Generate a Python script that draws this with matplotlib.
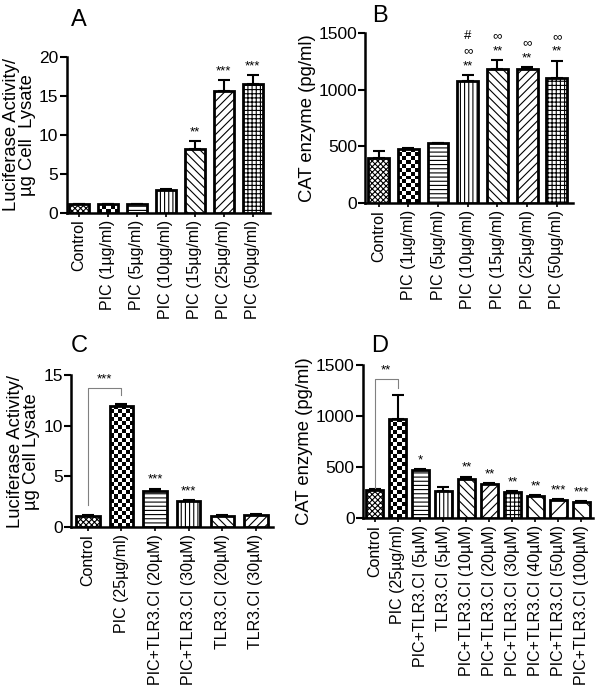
import numpy as np
import matplotlib
matplotlib.use('Agg')
import matplotlib.pyplot as plt

plt.rcParams['font.family'] = ['Liberation Sans', 'DejaVu Sans']
plt.rcParams['hatch.linewidth'] = 0.8

# Dane paneli A i B
labels_ab = ['Control', 'PIC (1µg/ml)', 'PIC (5µg/ml)', 'PIC (10µg/ml)',
             'PIC (15µg/ml)', 'PIC (25µg/ml)', 'PIC (50µg/ml)']
luc_a = [1.1, 1.1, 1.1, 2.9, 8.2, 15.6, 16.5]
luc_a_err = [0.05, 0.05, 0.05, 0.2, 1.0, 1.4, 1.1]
sig_a = ['', '', '', '', '**', '***', '***']

cat_b = [400, 480, 525, 1080, 1180, 1185, 1105]
cat_b_err = [55, 5, 5, 45, 80, 10, 150]
sig_b = ['', '', '', '#\n∞\n**', '∞\n**', '∞\n**', '∞\n**']

# Dane panelu C
labels_c = ['Control', 'PIC (25µg/ml)', 'PIC+TLR3.CI (20µM)', 'PIC+TLR3.CI (30µM)',
            'TLR3.CI (20µM)', 'TLR3.CI (30µM)']
luc_c = [1.1, 12.0, 3.6, 2.6, 1.1, 1.2]
luc_c_err = [0.05, 0.2, 0.2, 0.05, 0.1, 0.05]
sig_c = ['', '', '***', '***', '', '']

# Dane panelu D
labels_d = ['Control', 'PIC (25µg/ml)', 'PIC+TLR3.CI (5µM)', 'TLR3.CI (5µM)',
            'PIC+TLR3.CI (10µM)', 'PIC+TLR3.CI (20µM)', 'PIC+TLR3.CI (30µM)',
            'PIC+TLR3.CI (40µM)', 'PIC+TLR3.CI (50µM)', 'PIC+TLR3.CI (100µM)']
cat_d = [270, 970, 470, 260, 380, 330, 255, 215, 180, 160]
cat_d_err = [10, 230, 10, 40, 25, 10, 5, 10, 5, 5]
sig_d = ['', '', '*', '', '**', '**', '**', '**', '***', '***']

hatch_ab = ['xxxxxx', 'checker', '----', '||||', '\\\\\\\\', '////', '++++']
hatch_c = ['xxxxxx', 'checker', '----', '||||', '\\\\\\\\', '////']
hatch_d = ['xxxxxx', 'checker', '----', '||||', '\\\\\\\\', '////', '++++', '\\\\\\', '//', '\\\\']


def checker(ax, bar, size=4):
    # szachownica wewnątrz słupka
    x0, y0 = bar.get_x(), bar.get_y()
    x1, y1 = x0 + bar.get_width(), y0 + bar.get_height()
    p0 = ax.transData.transform((x0, y0))
    p1 = ax.transData.transform((x1, y1))
    nc = max(1, int(round(abs(p1[0] - p0[0]) / size)))
    nr = max(1, int(round(abs(p1[1] - p0[1]) / size)))
    img = (np.indices((nr, nc)).sum(axis=0) % 2).astype(float)
    im = ax.imshow(img, extent=(x0, x1, y0, y1), cmap='gray', aspect='auto',
                   interpolation='nearest', zorder=bar.get_zorder() - 0.1, origin='lower')
    im.set_clip_path(bar)


def panel(rect, labels, vals, errs, hatches, sigs, ylim, yticks, ylabel, letter, letter_pos, xlim):
    ax = fig.add_axes(rect)
    x = np.arange(len(vals))
    ax.set_xlim(*xlim)
    ax.set_ylim(*ylim)
    bars = ax.bar(x, vals, width=0.7, color='white', edgecolor='black', linewidth=2, zorder=3)
    for b, h in zip(bars, hatches):
        if h == 'checker':
            b.set_facecolor('none')
            checker(ax, b)
        else:
            b.set_hatch(h)
    ax.errorbar(x, vals, yerr=[np.zeros(len(errs)), errs], fmt='none', ecolor='black',
                elinewidth=1.5, capsize=4, capthick=1.5, zorder=2)
    for xi, v, e, s in zip(x, vals, errs, sigs):
        if s:
            ax.annotate(s, (xi, v + e), xytext=(0, 2), textcoords='offset points',
                        ha='center', va='bottom', fontsize=9.5, linespacing=1.35)
    ax.set_xlim(*xlim)
    ax.set_ylim(*ylim)
    ax.set_yticks(yticks)
    ax.set_xticks(x)
    ax.set_xticklabels(labels, rotation=90, fontsize=11.5)
    ax.tick_params(axis='y', labelsize=12.5, width=1.5, length=5, pad=1)
    ax.tick_params(axis='x', width=1.2, length=3, pad=2)
    ax.spines['top'].set_visible(False)
    ax.spines['right'].set_visible(False)
    ax.spines['left'].set_linewidth(1.8)
    ax.spines['bottom'].set_linewidth(1.8)
    ax.set_ylabel(ylabel, fontsize=13.3, labelpad=2, linespacing=0.95)
    fig.text(letter_pos[0], letter_pos[1], letter, fontsize=17, ha='center', va='center')
    return ax


fig = plt.figure(figsize=(6.02, 7.0), dpi=100)

panel([0.111, 0.696, 0.338, 0.223], labels_ab, luc_a, luc_a_err, hatch_ab, sig_a,
      (0, 20), [0, 5, 10, 15, 20], 'Luciferase Activity/\nµg Cell  Lysate', 'A',
      (0.131, 0.971), (-0.42, 6.6))

panel([0.607, 0.710, 0.345, 0.243], labels_ab, cat_b, cat_b_err, hatch_ab, sig_b,
      (0, 1500), [0, 500, 1000, 1500], 'CAT enzyme (pg/ml)', 'B',
      (0.631, 0.977), (-0.45, 6.55))

ax_c = panel([0.118, 0.247, 0.335, 0.217], labels_c, luc_c, luc_c_err, hatch_c, sig_c,
             (0, 15), [0, 5, 10, 15], 'Luciferase Activity/\nµg Cell Lysate', 'C',
             (0.131, 0.506), (-0.5, 5.5))
ax_c.plot([0, 0, 1, 1], [2.2, 13.7, 13.7, 13.0], color='gray', lw=0.8)
ax_c.text(0.5, 14.0, '***', ha='center', va='bottom', fontsize=9.5)

ax_d = panel([0.603, 0.260, 0.382, 0.219], labels_d, cat_d, cat_d_err, hatch_d, sig_d,
             (0, 1500), [0, 500, 1000, 1500], 'CAT enzyme (pg/ml)', 'D',
             (0.631, 0.506), (-0.5, 9.5))
ax_d.plot([0, 0, 1, 1], [295, 1363, 1363, 1275], color='gray', lw=0.8)
ax_d.text(0.5, 1390, '**', ha='center', va='bottom', fontsize=9.5)

plt.savefig('out.png', dpi=100)
